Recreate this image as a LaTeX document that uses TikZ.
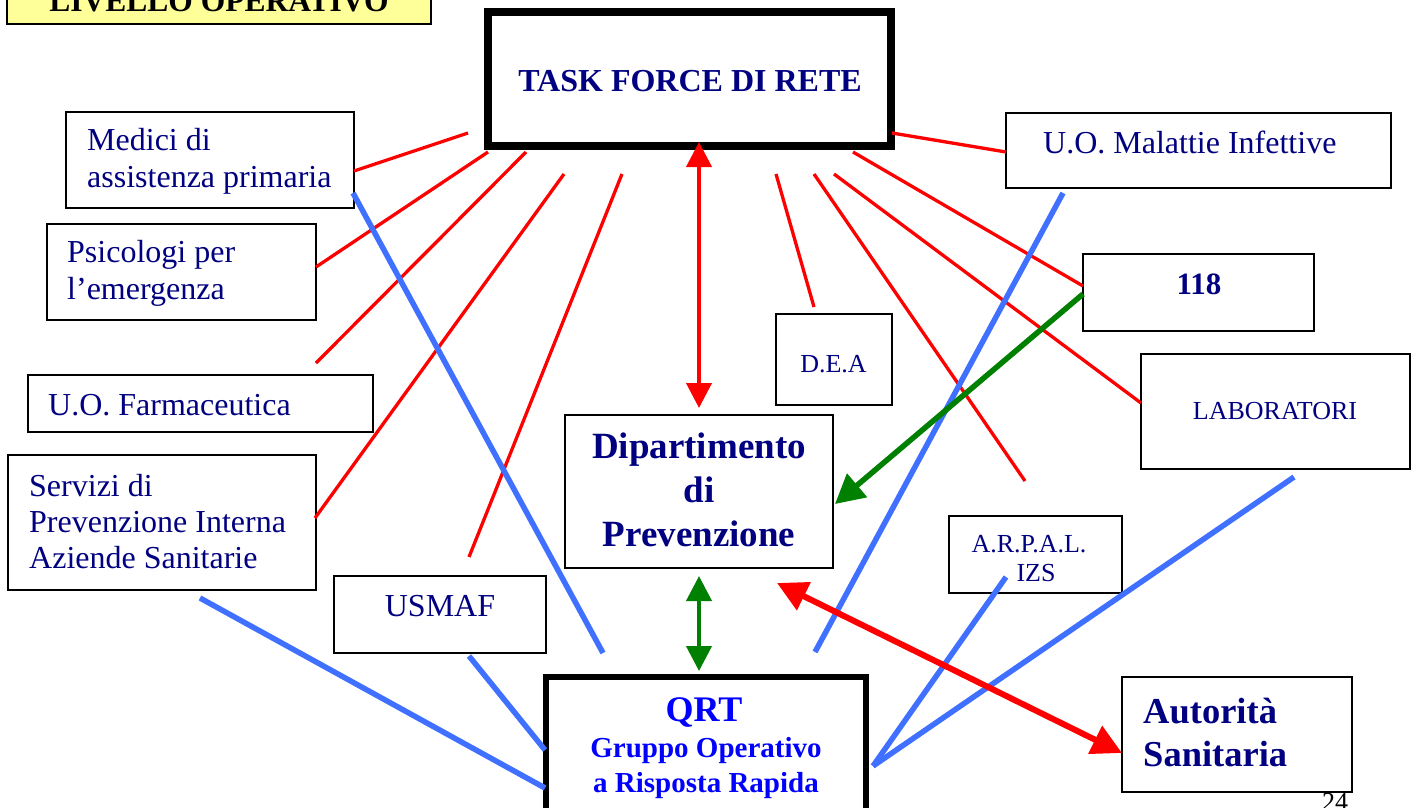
\documentclass[tikz,border=0pt]{standalone}
\usepackage{fontspec}
\setmainfont{Liberation Serif}
\usetikzlibrary{arrows.meta}
\definecolor{navy}{RGB}{0,0,128}
\definecolor{qblue}{RGB}{0,0,255}
\definecolor{lblue}{RGB}{64,112,255}
\definecolor{lred}{RGB}{255,0,0}
\definecolor{dgreen}{RGB}{0,128,0}
\definecolor{lyellow}{RGB}{255,255,153}
\begin{document}
\begin{tikzpicture}[x=1pt,y=-1pt,
  box/.style={draw=black, line width=2pt, inner sep=0pt, outer sep=0pt, fill=white},
  bigtxt/.style={inner sep=0pt, text=navy, font=\fontsize{32}{37}\selectfont},
  smalltxt/.style={inner sep=0pt, text=navy, font=\fontsize{26}{29}\selectfont},
  boldtxt/.style={inner sep=0pt, text=navy, font=\bfseries\fontsize{37}{44}\selectfont},
  redline/.style={draw=lred, line width=3.3pt},
  blueline/.style={draw=lblue, line width=5.5pt}
]
\fill[white] (0,0) rectangle (1418,807);
\useasboundingbox (0,0) rectangle (1418,807);

% ---------- boxes ----------
\node[box, fill=lyellow, minimum width=424pt, minimum height=44pt] (livbox) at (219,2) {};
\node[box, line width=8pt, minimum width=403pt, minimum height=134pt] (tf) at (689.5,79) {};
\node[box, minimum width=288pt, minimum height=96pt] (medici) at (210,160) {};
\node[box, minimum width=269pt, minimum height=96pt] (psico) at (181.5,272) {};
\node[box, minimum width=345pt, minimum height=57pt] (farm) at (200.5,403.5) {};
\node[box, minimum width=308pt, minimum height=135pt] (servizi) at (162,522.5) {};
\node[box, minimum width=212pt, minimum height=77pt] (usmaf) at (440,614.5) {};
\node[box, minimum width=116pt, minimum height=91pt] (dea) at (834,359.5) {};
\node[box, minimum width=268pt, minimum height=153pt] (dip) at (699,491.5) {};
\node[box, minimum width=173pt, minimum height=77pt] (arpal) at (1035.5,554.5) {};
\node[box, minimum width=385pt, minimum height=75pt] (malinf) at (1198.5,150.5) {};
\node[box, minimum width=231pt, minimum height=77pt] (n118) at (1198.5,292.5) {};
\node[box, minimum width=269pt, minimum height=115pt] (lab) at (1275.5,411.5) {};
\node[box, line width=6pt, minimum width=320pt, minimum height=180pt] (qrt) at (706,767) {};
\node[box, minimum width=230pt, minimum height=115pt] (aut) at (1237,734.5) {};

% ---------- texts ----------
\node[inner sep=0pt, anchor=base, font=\bfseries\fontsize{31.5}{37}\selectfont] (livtxt) at (219,11) {LIVELLO OPERATIVO};
\node[inner sep=0pt, text=navy, font=\bfseries\fontsize{32}{37}\selectfont] (tftxt) at (690,81.5) {TASK FORCE DI RETE};
\node[bigtxt, anchor=west, align=left] (medicitxt) at (87,161) {Medici di\\assistenza primaria};
\node[bigtxt, anchor=west, align=left] (psicotxt) at (67,273) {Psicologi per\\l’emergenza};
\node[bigtxt, anchor=west] (farmtxt) at (48,405) {U.O. Farmaceutica};
\node[bigtxt, anchor=west, align=left, font=\fontsize{32}{36}\selectfont] (servtxt) at (29,522) {Servizi di\\Prevenzione Interna\\Aziende Sanitarie};
\node[bigtxt] (usmaftxt) at (440,606) {USMAF};
\node[smalltxt] (deatxt) at (833.5,364) {D.E.A};
\node[boldtxt, align=center] (diptxt) at (699,490) {Dipartimento\\di\\Prevenzione};
\node[smalltxt, align=center] (arpaltxt) at (1029,559) {A.R.P.A.L.\\\hspace*{14pt}IZS};
\node[bigtxt, anchor=west] (malinftxt) at (1043,142.5) {U.O. Malattie Infettive};
\node[inner sep=0pt, text=navy, font=\bfseries\fontsize{31}{37}\selectfont] (t118) at (1199,284.5) {118};
\node[smalltxt] (labtxt) at (1275,411) {LABORATORI};
\node[inner sep=0pt, text=qblue, font=\bfseries\fontsize{36}{40}\selectfont] (qrttxt) at (704,712.5) {QRT};
\node[inner sep=0pt, text=qblue, align=center, font=\bfseries\fontsize{29}{35}\selectfont] (qrtsub) at (706,768) {Gruppo Operativo\\a Risposta Rapida};
\node[boldtxt, anchor=west, align=left, font=\bfseries\fontsize{36.5}{43}\selectfont] (auttxt) at (1143,732) {Autorità\\Sanitaria};
\node[inner sep=0pt, anchor=base, font=\fontsize{26}{29}\selectfont] (pagenum) at (1335,810) {24};

% ---------- connector end points ----------
\coordinate (r1a) at (468,133);  \coordinate (r1b) at (354,171);
\coordinate (r2a) at (488,152);  \coordinate (r2b) at (316,267);
\coordinate (r3a) at (526,152);  \coordinate (r3b) at (316,363);
\coordinate (r4a) at (564,174);  \coordinate (r4b) at (315,518);
\coordinate (r5a) at (622,174);  \coordinate (r5b) at (469,557);
\coordinate (r6a) at (776,174);  \coordinate (r6b) at (814,307);
\coordinate (r7a) at (814,174);  \coordinate (r7b) at (1025,481);
\coordinate (r8a) at (834,174);  \coordinate (r8b) at (1141,403);
\coordinate (r9a) at (853,152);  \coordinate (r9b) at (1083,286);
\coordinate (r10a) at (892,133); \coordinate (r10b) at (1006,152);

\coordinate (b1a) at (353,193);  \coordinate (b1b) at (603,653);
\coordinate (b2a) at (1063,193); \coordinate (b2b) at (815,652);
\coordinate (b3a) at (200,598);  \coordinate (b3b) at (545,788);
\coordinate (b4a) at (469,656);  \coordinate (b4b) at (545,750);
\coordinate (b5a) at (1006,577); \coordinate (b5b) at (873,766);
\coordinate (b6a) at (1294,477); \coordinate (b6b) at (873,766);

\coordinate (tfbot) at (699,142); \coordinate (diptop) at (699,408);
\coordinate (dipbot) at (699,576); \coordinate (qrttop) at (699,671);
\coordinate (g118) at (1083,294); \coordinate (gdip) at (835,504);
\coordinate (adip) at (777,583); \coordinate (aaut) at (1122,753);

% ---------- red lines ----------
\foreach \i in {1,...,10} {\draw[redline] (r\i a) -- (r\i b);}
% ---------- blue lines ----------
\foreach \i in {1,...,6} {\draw[blueline] (b\i a) -- (b\i b);}

% ---------- arrows ----------
\draw[line width=4pt, {Triangle[width=25pt,length=25pt]}-{Triangle[width=25pt,length=25pt]}, color=lred] (tfbot) -- (diptop);
\draw[line width=4pt, {Triangle[width=25pt,length=25pt]}-{Triangle[width=25pt,length=25pt]}, color=dgreen] (dipbot) -- (qrttop);
\draw[line width=5.5pt, -{Triangle[width=30pt,length=29pt]}, color=dgreen] (g118) -- (gdip);
\draw[line width=6pt, {Triangle[width=30pt,length=30pt]}-{Triangle[width=30pt,length=30pt]}, color=lred] (adip) -- (aaut);
\end{tikzpicture}
\end{document}
